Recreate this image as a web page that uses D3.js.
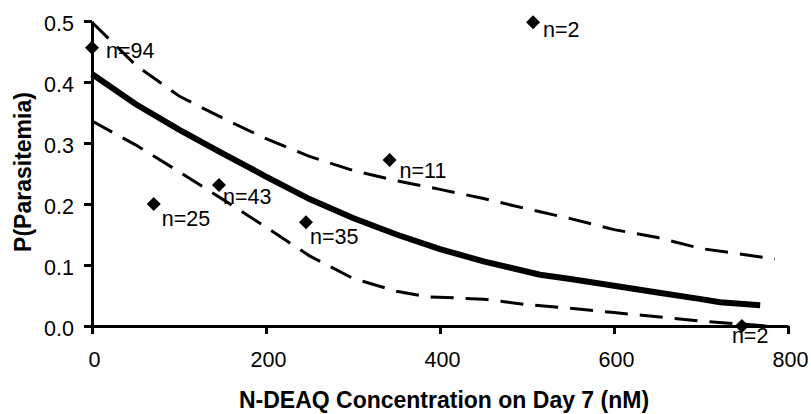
<!DOCTYPE html>
<html>
<head>
<meta charset="utf-8">
<script src="https://cdn.jsdelivr.net/npm/d3@7"></script>
<style>
  body { margin: 0; background: #fff; }
  svg { display: block; font-family: "Liberation Sans", Arial, sans-serif; }
</style>
</head>
<body>
<div id="chart-area"></div>
<script>
// observed points
var pointConc = [0, 71, 146, 246, 342, 507, 747];
var pointProb = [0.456, 0.200, 0.231, 0.170, 0.272, 0.498, 0.0];
var pointLabels = ['n=94', 'n=25', 'n=43', 'n=35', 'n=11', 'n=2', 'n=2'];

// fitted curve and its confidence band
var fitConc = [0, 50, 100, 150, 200, 250, 300, 350, 400, 450, 515, 550, 600, 650, 700, 722, 768];
var fitProb = [0.413, 0.364, 0.322, 0.283, 0.245, 0.208, 0.177, 0.150, 0.126, 0.106, 0.084, 0.077, 0.066, 0.055, 0.044, 0.039, 0.034];

var upperConc = [0, 50, 100, 150, 200, 250, 300, 350, 400, 450, 500, 550, 600, 650, 700, 785];
var upperProb = [0.498, 0.428, 0.377, 0.341, 0.307, 0.278, 0.255, 0.238, 0.224, 0.209, 0.192, 0.176, 0.158, 0.145, 0.127, 0.110];

var lowerConc = [0, 50, 100, 150, 200, 250, 300, 350, 385, 450, 500, 550, 600, 650, 700, 775];
var lowerProb = [0.336, 0.297, 0.253, 0.208, 0.162, 0.115, 0.078, 0.057, 0.048, 0.044, 0.035, 0.029, 0.022, 0.015, 0.008, 0.0];

var xTicks = [0, 200, 400, 600, 800];
var yTicks = [0, 0.1, 0.2, 0.3, 0.4, 0.5];

var margin = { top: 21, right: 23, bottom: 88, left: 92 };
var width = 811 - margin.left - margin.right;
var height = 414 - margin.top - margin.bottom;

var svg = d3.select('#chart-area')
    .append('svg')
    .attr('width', 811)
    .attr('height', 414);

var graph = svg.append('g')
    .attr('transform', 'translate(' + margin.left + ',' + margin.top + ')');

var x = d3.scaleLinear().domain([0, 800]).range([0, width]);
var y = d3.scaleLinear().domain([0, 0.5]).range([height, 0]);

var xAxis = d3.axisBottom(x)
    .tickValues(xTicks)
    .tickSize(8)
    .tickSizeOuter(0)
    .tickPadding(18);
var gx = graph.append('g')
    .attr('class', 'x-axis')
    .attr('transform', 'translate(0,' + height + ')')
    .call(xAxis);

var yAxis = d3.axisLeft(y)
    .tickValues(yTicks)
    .tickFormat(d3.format('.1f'))
    .tickSize(8)
    .tickSizeOuter(0)
    .tickPadding(10);
var gy = graph.append('g')
    .attr('class', 'y-axis')
    .call(yAxis);

[gx, gy].forEach(function (g) {
    g.selectAll('path, line').attr('stroke', '#000').attr('stroke-width', 3);
    g.selectAll('text')
        .attr('fill', '#000')
        .style('font-size', '21.5px');
});
gy.selectAll('text').attr('dy', '0.45em');
gx.selectAll('text').attr('dx', 2);

// axis titles
svg.append('text')
    .attr('x', margin.left + width / 2 + 4)
    .attr('y', 408)
    .attr('text-anchor', 'middle')
    .style('font-size', '23px')
    .style('font-weight', 'bold')
    .text('N-DEAQ Concentration on Day 7 (nM)');

svg.append('text')
    .attr('transform', 'translate(31,' + 172 + ') rotate(-90)')
    .attr('text-anchor', 'middle')
    .style('font-size', '23px')
    .style('font-weight', 'bold')
    .text('P(Parasitemia)');

var line = d3.line()
    .x(function (d) { return x(d[0]); })
    .y(function (d) { return y(d[1]); });

function pairs(xs, ys) {
    return xs.map(function (v, i) { return [v, ys[i]]; });
}

graph.append('path')
    .datum(pairs(upperConc, upperProb))
    .attr('d', line)
    .attr('fill', 'none')
    .attr('stroke', '#000')
    .attr('stroke-width', 3)
    .attr('stroke-dasharray', '23,12');

graph.append('path')
    .datum(pairs(lowerConc, lowerProb))
    .attr('d', line)
    .attr('fill', 'none')
    .attr('stroke', '#000')
    .attr('stroke-width', 3)
    .attr('stroke-dasharray', '23,12');

graph.append('path')
    .datum(pairs(fitConc, fitProb))
    .attr('d', line)
    .attr('fill', 'none')
    .attr('stroke', '#000')
    .attr('stroke-width', 6);

// diamonds
var pts = pointConc.map(function (c, i) {
    return { conc: c, prob: pointProb[i], label: pointLabels[i] };
});

graph.selectAll('path.pt')
    .data(pts)
    .enter()
    .append('path')
    .attr('class', 'pt')
    .attr('d', 'M0,-7L7,0L0,7L-7,0Z')
    .attr('fill', '#000')
    .attr('transform', function (d) {
        return 'translate(' + x(d.conc) + ',' + y(d.prob) + ')';
    });

// label nudges relative to each marker
var nudge = [[14, 10], [8, 22], [4, 19], [4, 22], [10, 18], [10, 15], [-10, 17]];
graph.selectAll('text.pt-label')
    .data(pts)
    .enter()
    .append('text')
    .attr('class', 'pt-label')
    .attr('x', function (d, i) { return x(d.conc) + nudge[i][0]; })
    .attr('y', function (d, i) { return y(d.prob) + nudge[i][1]; })
    .style('font-size', '21.5px')
    .text(function (d) { return d.label; });
</script>
</body>
</html>
